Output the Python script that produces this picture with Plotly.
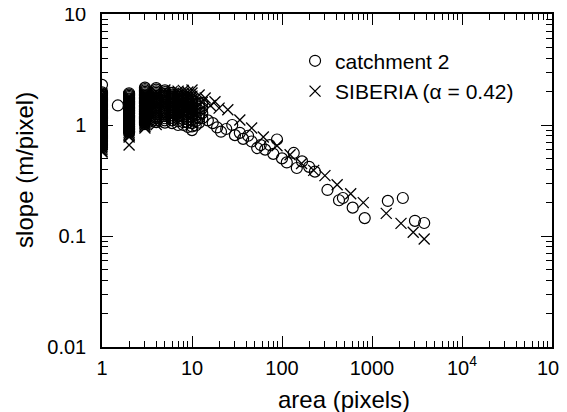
import plotly.graph_objects as go

# ---------------- data: catchment 2 (open circles) ----------------
c_s1 = [2.30, 1.97, 1.92, 1.87, 1.83, 1.78, 1.74, 1.70, 1.66, 1.62, 1.58, 1.54, 1.50,
        1.46, 1.43, 1.39, 1.36, 1.33, 1.29, 1.26, 1.23, 1.20, 1.17, 1.14, 1.11, 1.09,
        1.06, 1.03, 1.01, 0.98, 0.96, 0.94, 0.91, 0.89, 0.87, 0.85, 0.83, 0.81, 0.79,
        0.77, 0.75, 0.73, 0.71, 0.69, 0.67, 0.65, 0.63]
c_s15 = [1.50]
c_s2 = [1.93, 1.88, 1.83, 1.78, 1.73, 1.69, 1.64, 1.60, 1.56, 1.52, 1.48, 1.44, 1.40,
        1.36, 1.33, 1.29, 1.26, 1.22, 1.19, 1.16, 1.13, 1.10, 1.07, 1.04, 1.01, 0.98,
        0.96, 0.93, 0.91, 0.88, 0.86]
c_s3 = [2.17, 2.11, 2.05, 1.99, 1.94, 1.88, 1.83, 1.78, 1.73, 1.68, 1.63, 1.59, 1.55,
        1.50, 1.46, 1.42, 1.38, 1.34, 1.31, 1.27, 1.24, 1.20, 1.17, 1.14, 1.11, 1.08,
        1.05, 1.02]
c_s4 = [2.15, 2.08, 2.01, 1.95, 1.89, 1.83, 1.77, 1.71, 1.66, 1.60, 1.55, 1.50, 1.45,
        1.40, 1.35, 1.30, 1.25, 1.20, 1.15, 1.10, 1.06]
c_s5 = [2.05, 1.98, 1.91, 1.84, 1.77, 1.70, 1.64, 1.58, 1.52, 1.46, 1.40, 1.35, 1.30,
        1.25, 1.20, 1.15, 1.10, 1.05]
c_s6 = [1.95, 1.88, 1.80, 1.73, 1.66, 1.59, 1.52, 1.46, 1.40, 1.34, 1.28, 1.22, 1.16,
        1.10, 1.04]
c_s7 = [1.88, 1.80, 1.72, 1.65, 1.58, 1.51, 1.44, 1.38, 1.32, 1.26, 1.20, 1.14, 1.08, 1.00]
c_s8 = [1.82, 1.74, 1.66, 1.58, 1.51, 1.44, 1.37, 1.31, 1.25, 1.19, 1.13, 1.06, 1.00]
c_s9 = [1.76, 1.68, 1.60, 1.52, 1.45, 1.38, 1.31, 1.25, 1.19, 1.12, 1.05, 0.96]
c_s10 = [1.70, 1.62, 1.54, 1.46, 1.39, 1.32, 1.25, 1.18, 1.11, 1.04, 0.97, 0.90]
c_s11 = [1.62, 1.52, 1.42, 1.33, 1.24, 1.16, 1.08, 0.99]
c_s12 = [1.56, 1.45, 1.35, 1.25, 1.15, 1.05]
c_s13 = [1.58, 1.42, 1.28, 1.15]
c_tail_area = [15, 17, 19, 21, 24, 28, 30, 34, 37, 42, 46, 53, 58, 65, 73, 80, 88, 100,
               113, 135, 146, 167, 200, 232, 320, 430, 475, 610, 830, 1500, 2200, 3000, 3800]
c_tail_slope = [1.10, 1.04, 0.95, 0.87, 0.92, 1.00, 0.81, 0.85, 0.75, 0.80, 0.71, 0.62,
                0.66, 0.60, 0.66, 0.55, 0.74, 0.50, 0.46, 0.56, 0.41, 0.47, 0.42, 0.38,
                0.26, 0.21, 0.22, 0.18, 0.145, 0.207, 0.22, 0.137, 0.131]

# ---------------- data: SIBERIA (crosses) ----------------
s_s1 = [1.90, 1.84, 1.79, 1.73, 1.68, 1.63, 1.58, 1.53, 1.49, 1.44, 1.40, 1.36, 1.32,
        1.28, 1.24, 1.20, 1.17, 1.13, 1.10, 1.07, 1.03, 1.00, 0.97, 0.94, 0.92, 0.89,
        0.86, 0.84, 0.81, 0.79, 0.76, 0.74, 0.72, 0.70, 0.68, 0.66, 0.64, 0.62, 0.60,
        0.58, 0.57]
s_s2 = [1.80, 1.75, 1.70, 1.65, 1.60, 1.56, 1.51, 1.47, 1.43, 1.39, 1.35, 1.31, 1.27,
        1.24, 1.20, 1.17, 1.14, 1.11, 1.07, 1.04, 1.01, 0.98, 0.95, 0.92, 0.89, 0.86,
        0.83, 0.80, 0.78, 0.66]
s_s3 = [1.95, 1.89, 1.83, 1.77, 1.72, 1.67, 1.62, 1.57, 1.52, 1.48, 1.43, 1.39, 1.35,
        1.31, 1.27, 1.23, 1.19, 1.16, 1.12, 1.09, 1.06, 1.03, 1.00, 0.97, 0.94]
s_s4 = [1.98, 1.90, 1.82, 1.74, 1.66, 1.59, 1.52, 1.45, 1.38, 1.31, 1.25, 1.19, 1.13,
        1.07, 1.01]
s_s5 = [2.07, 1.97, 1.88, 1.79, 1.70, 1.62, 1.54, 1.46, 1.39, 1.32, 1.25, 1.18, 1.12]
s_s6 = [2.00, 1.90, 1.80, 1.71, 1.62, 1.53, 1.45, 1.37, 1.30, 1.23, 1.16]
s_s7 = [2.02, 1.91, 1.81, 1.71, 1.62, 1.53, 1.45, 1.37, 1.29, 1.21]
s_s8 = [2.05, 1.93, 1.82, 1.72, 1.62, 1.53, 1.44, 1.36, 1.28]
s_s9 = [1.98, 1.87, 1.76, 1.66, 1.56, 1.47, 1.38, 1.30]
s_s10 = [2.07, 1.94, 1.82, 1.71, 1.60, 1.50, 1.41, 1.32]
s_tail_area = [12, 13, 14, 16, 18, 20, 25, 34, 46, 62, 88, 123, 165, 225, 300, 410, 580,
               800, 1440, 2100, 2870, 3800]
s_tail_slope = [1.86, 1.60, 1.75, 1.50, 1.62, 1.42, 1.37, 1.11, 0.94, 0.78, 0.65, 0.54,
                0.45, 0.39, 0.35, 0.29, 0.24, 0.20, 0.16, 0.13, 0.108, 0.094]

x_tickvals = [1, 10, 100, 1000, 10000, 100000]
x_ticktext = ["1", "10", "100", "1000", "10<sup>4</sup>", "10<sup>5</sup>"]
y_tickvals = [0.01, 0.1, 1, 10]
y_ticktext = ["0.01", "0.1", "1", "10"]
series_names = ["catchment 2", "SIBERIA (\u03b1 = 0.42)"]
x_title = "area (pixels)"
y_title = "slope (m/pixel)"

# assemble
c_cols = [(1, c_s1), (1.5, c_s15), (2, c_s2), (3, c_s3), (4, c_s4), (5, c_s5), (6, c_s6),
          (7, c_s7), (8, c_s8), (9, c_s9), (10, c_s10), (11, c_s11), (12, c_s12), (13, c_s13)]
c_area, c_slope = [], []
for a, vals in c_cols:
    c_area += [a] * len(vals)
    c_slope += vals
c_area += c_tail_area
c_slope += c_tail_slope

s_cols = [(1, s_s1), (2, s_s2), (3, s_s3), (4, s_s4), (5, s_s5), (6, s_s6), (7, s_s7),
          (8, s_s8), (9, s_s9), (10, s_s10)]
s_area, s_slope = [], []
for a, vals in s_cols:
    s_area += [a] * len(vals)
    s_slope += vals
s_area += s_tail_area
s_slope += s_tail_slope

FONT = "Liberation Sans, Arial, Helvetica, sans-serif"

fig = go.Figure()
fig.add_trace(go.Scatter(
    x=c_area, y=c_slope, mode="markers", name=series_names[0],
    marker=dict(symbol="circle-open", size=11, color="black", line=dict(width=1.2, color="black")),
))
fig.add_trace(go.Scatter(
    x=s_area, y=s_slope, mode="markers", name=series_names[1],
    marker=dict(symbol="x-thin-open", size=11, color="black", line=dict(width=1.3, color="black")),
))

minor_x = [m * 10 ** e for e in range(0, 5) for m in range(2, 10)]
minor_y = [m * 10 ** e for e in range(-2, 1) for m in range(2, 10)]

axis_common = dict(
    showline=True, linecolor="black", linewidth=1.5, mirror="ticks",
    ticks="inside", ticklen=11, tickwidth=1.2, tickcolor="black",
    showgrid=False, zeroline=False, automargin=False, ticklabeloverflow="allow",
    tickfont=dict(family=FONT, size=20, color="black"),
)

fig.update_xaxes(
    type="log", range=[0, 5], tickmode="array", tickvals=x_tickvals, ticktext=x_ticktext,
    minor=dict(tickmode="array", tickvals=minor_x, ticks="inside", ticklen=6,
               tickwidth=1.2, tickcolor="black", showgrid=False),
    ticklabelstandoff=2,
    **axis_common,
)
fig.update_yaxes(
    type="log", range=[-2, 1], tickmode="array", tickvals=y_tickvals, ticktext=y_ticktext,
    minor=dict(tickmode="array", tickvals=minor_y, ticks="inside", ticklen=6,
               tickwidth=1.2, tickcolor="black", showgrid=False),
    ticklabelstandoff=10,
    **axis_common,
)

fig.add_annotation(text=x_title, xref="paper", yref="paper", x=0.538, y=-0.159,
                   xanchor="center", yanchor="middle", showarrow=False,
                   font=dict(family=FONT, size=24, color="black"))
fig.add_annotation(text=y_title, xref="paper", yref="paper", x=-0.171, y=0.532,
                   xanchor="center", yanchor="middle", showarrow=False, textangle=-90,
                   font=dict(family=FONT, size=24, color="black"))

# page body has an 8px default margin, so the figure is sized/positioned to compensate
fig.update_layout(
    width=559, height=404,
    margin=dict(l=94, r=15, t=6, b=65, autoexpand=False),
    paper_bgcolor="white", plot_bgcolor="white",
    showlegend=True,
    legend=dict(x=0.429, y=0.92, xanchor="left", yanchor="top",
                bgcolor="rgba(0,0,0,0)", font=dict(family=FONT, size=21, color="black")),
)

fig.write_html("out.html")
